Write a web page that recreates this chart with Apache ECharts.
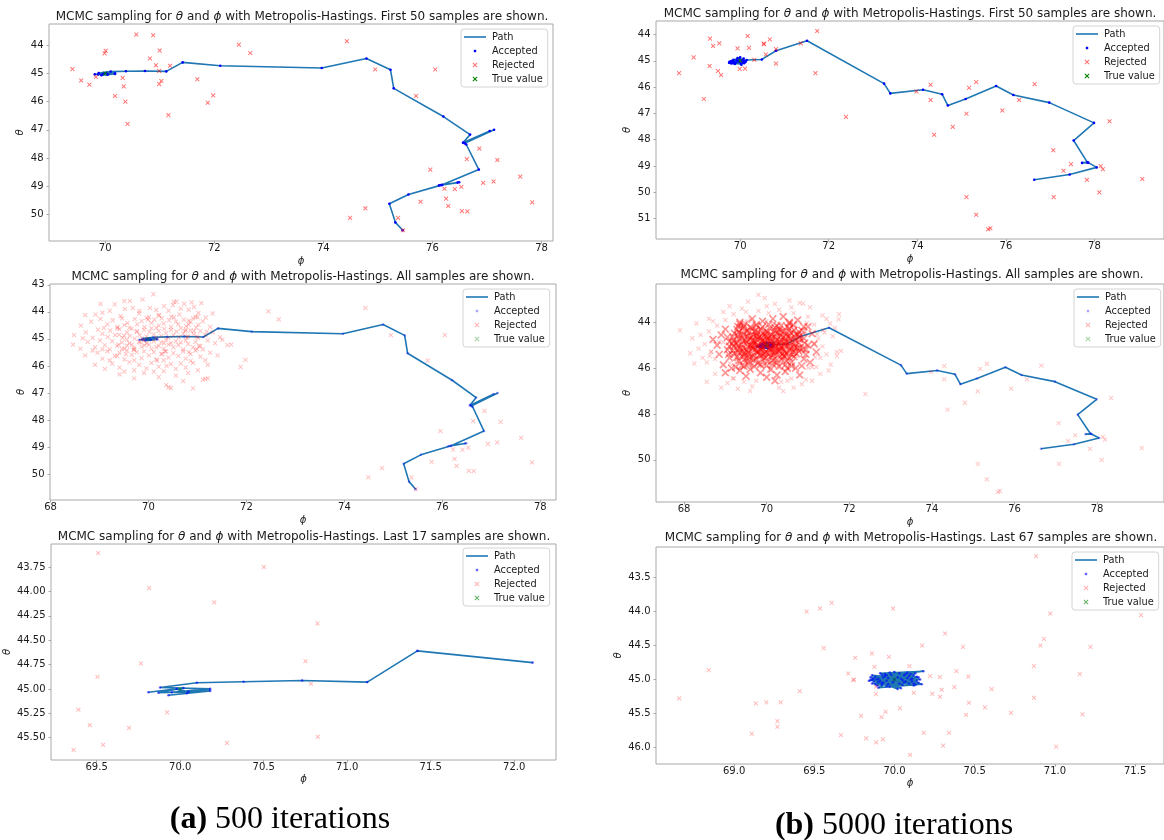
<!DOCTYPE html>
<html>
<head>
<meta charset="utf-8">
<script src="https://cdn.jsdelivr.net/npm/echarts@6/dist/echarts.min.js"></script>
<style>
html, body { margin: 0; padding: 0; background: #fff; }
#chart { width: 1164px; height: 840px; }
</style>
</head>
<body>
<div id="chart"></div>
<script>
// ---------------- data: points are [phi, theta] ----------------
const trueValue = [[70, 45]];

// 500-iteration run: accepted states in chain order
const chain500 = [
  [75.455,50.56],[75.32,50.28],[75.21,49.62],[75.56,49.29],[76.16,48.96],[76.49,48.86],[76.12,48.97],
  [76.46,48.87],[76.18,48.95],[76.85,48.41],[76.62,47.52],[76.57,47.45],[77.13,47.0],[76.59,47.48],
  [77.05,47.04],[76.56,47.46],[76.69,47.17],[76.2,46.53],[75.29,45.53],[75.23,44.87],[74.79,44.47],
  [73.97,44.81],[72.11,44.73],[71.42,44.61],[71.12,44.93],[70.73,44.913],[70.38,44.926],[70.10,44.937],
  [69.88,44.985],[70.18,45.0],[69.95,45.035],[70.18,45.02],[69.93,45.065],[70.04,45.045],[69.98,45.0],
  [70.05,45.03],[69.87,45.04],[70.02,44.99],[69.81,45.035]
];
// 500-iteration run: rejected proposals among the first samples
const rejectedFirst500 = [
  [69.40,44.85],[69.56,45.25],[69.71,45.40],[69.83,45.13],[69.99,44.29],[70.01,44.20],[70.57,43.62],
  [70.88,43.65],[70.82,44.47],[71.00,44.19],[70.93,44.71],[70.99,44.91],[71.19,44.73],[71.03,45.27],
  [70.99,45.38],[70.32,45.16],[70.34,45.46],[70.18,45.80],[70.37,46.00],[70.41,46.79],[71.16,46.48],
  [71.69,45.21],[71.98,45.78],[71.88,46.04],[72.45,43.98],[72.66,44.28],[74.43,43.86],[74.95,44.86],
  [76.05,44.86],[75.70,45.80],[76.86,47.66],[76.63,48.04],[77.19,48.07],[75.96,48.41],[77.61,48.66],
  [77.12,48.83],[76.93,48.88],[76.53,49.02],[76.22,49.09],[76.41,49.10],[76.25,49.44],[75.78,49.55],
  [77.83,49.57],[76.29,49.70],[76.54,49.88],[76.64,49.89],[74.77,49.78],[74.49,50.12],[75.37,50.12],
  [75.46,50.56]
];
// 500-iteration run: rejected proposals among the last samples
const rejectedLast500 = [
  [69.509,43.607],[70.501,43.75],[69.815,43.966],[70.204,44.113],[70.822,44.329],[69.765,44.74],
  [70.75,44.716],[69.505,44.876],[70.783,44.947],[69.391,45.214],[69.922,45.241],[69.459,45.372],
  [69.694,45.40],[70.824,45.49],[69.539,45.572],[70.28,45.555],[69.362,45.627]
];
// 500-iteration run: remaining rejected proposals around the posterior mode
const rejectedCloud500 = [
  [70.1,43.35],[69.62,43.6],[70.52,43.63],[69.31,43.72],[70.73,43.7],[71.08,43.68],[69.88,43.54],[70.32,43.79],[69.02,43.71],[70.93,43.82],
  [68.92,44.1],[69.21,43.96],[69.52,43.9],[69.81,44.06],[70.03,43.86],[70.22,44.14],[70.41,43.96],[70.63,44.1],[70.82,43.92],[71.02,44.04],
  [71.31,44.06],[69.43,44.16],[69.68,43.86],[70.16,43.93],[70.47,44.18],[70.96,44.19],[68.71,44.12],[69.06,44.03],[70.66,43.88],[71.17,44.21],
  [68.62,44.51],[68.83,44.36],[69.02,44.26],[69.16,44.46],[69.27,44.31],[69.37,44.56],[69.46,44.24],[69.57,44.41],[69.61,44.59],[69.72,44.27],
  [69.77,44.46],[69.86,44.34],[69.92,44.56],[69.96,44.22],[70.06,44.41],[70.12,44.29],[70.21,44.51],[70.27,44.24],[70.31,44.43],[70.42,44.31],
  [70.46,44.56],[70.52,44.21],[70.61,44.46],[70.72,44.29],[70.77,44.53],[70.86,44.38],[70.91,44.24],[71.02,44.48],[71.11,44.35],[71.26,44.56],
  [69.09,44.59],[69.51,44.49],[70.16,44.59],[70.56,44.36],[70.97,44.58],
  [68.48,44.86],[68.72,44.76],[68.86,44.96],[68.97,44.66],[69.06,44.81],[69.17,44.93],[69.22,44.69],[69.32,44.86],[69.41,44.64],[69.47,44.96],
  [69.56,44.76],[69.62,44.89],[69.66,44.62],[69.72,44.99],[69.76,44.71],[69.82,44.86],[69.91,44.67],[69.96,44.91],[70.02,44.74],[70.06,44.61],
  [70.11,44.83],[70.16,44.96],[70.21,44.71],[70.26,44.89],[70.32,44.63],[70.36,44.79],[70.41,44.96],[70.46,44.67],[70.51,44.86],[70.57,44.73],
  [70.62,44.94],[70.66,44.61],[70.71,44.81],[70.81,44.91],[70.86,44.69],[70.92,44.83],[71.01,44.96],[71.06,44.71],[71.16,44.86],[71.31,44.76],
  [71.46,44.94],[69.36,44.61],[69.87,44.99],[70.76,44.66],[68.66,44.98],
  [68.46,45.21],[68.76,45.11],[68.91,45.31],[69.01,45.06],[69.11,45.23],[69.21,45.39],[69.26,45.09],[69.36,45.26],[69.46,45.13],[69.51,45.36],
  [69.56,45.03],[69.66,45.21],[69.71,45.33],[69.81,45.11],[69.86,45.29],[69.91,45.06],[70.01,45.21],[70.06,45.37],[70.11,45.09],[70.21,45.26],
  [70.26,45.13],[70.31,45.36],[70.36,45.03],[70.41,45.21],[70.51,45.31],[70.56,45.09],[70.61,45.23],[70.71,45.39],[70.76,45.06],[70.81,45.19],
  [70.91,45.31],[70.96,45.11],[71.06,45.26],[71.21,45.06],[71.36,45.16],[71.51,45.03],[71.61,45.23],[68.61,45.36],[69.06,45.39],[69.61,45.16],
  [70.16,45.31],[70.66,45.13],[71.11,45.39],[69.96,45.16],[70.46,45.16],
  [68.71,45.61],[68.96,45.51],[69.06,45.73],[69.16,45.46],[69.31,45.63],[69.41,45.51],[69.51,45.76],[69.56,45.43],[69.66,45.59],[69.76,45.49],
  [69.86,45.71],[69.91,45.46],[70.01,45.61],[70.11,45.49],[70.16,45.76],[70.26,45.56],[70.36,45.46],[70.41,45.69],[70.51,45.53],[70.61,45.63],
  [70.71,45.46],[70.76,45.73],[70.86,45.56],[70.96,45.43],[71.06,45.66],[71.26,45.51],[71.41,45.61],[69.21,45.79],[69.71,45.79],[70.31,45.79],
  [70.86,45.81],[68.86,45.43],[71.16,45.79],
  [68.91,45.96],[69.11,46.11],[69.26,45.91],[69.41,46.06],[69.61,45.86],[69.71,46.16],[69.81,45.96],[69.96,46.09],[70.06,45.89],[70.21,46.03],
  [70.31,46.19],[70.46,45.93],[70.56,46.11],[70.66,45.91],[70.76,46.06],[70.91,45.89],[71.01,46.16],[71.21,45.96],[69.51,46.21],[70.11,46.21],
  [69.41,46.31],[69.91,46.26],[70.21,46.41],[70.36,46.71],[70.46,46.81],[70.56,46.36],[70.81,46.26],[70.91,46.83],[71.11,46.51],[71.21,46.46],
  [69.71,46.46],[70.71,46.56]
];

// 5000-iteration run: accepted states, burn-in part
const chainHead5000 = [
  [76.64,49.52],[77.44,49.32],[78.05,49.05],[77.86,48.87],[77.72,48.88],[77.84,48.86],[77.53,48.03],
  [77.99,47.36],[76.98,46.59],[76.17,46.30],[75.78,45.96],[75.09,46.45],[74.69,46.70],[74.56,46.27],
  [74.13,46.10],[73.39,46.24],[73.25,45.87],[71.51,44.24],[70.81,44.62],[70.49,44.95],[70.15,44.97]
];
// 5000-iteration run: accepted states right after reaching the mode
const chainEarly5000 = [
  [69.95,45.02],[69.78,45.06],[70.05,44.98],[69.80,45.10],[70.10,45.03],[69.85,44.96],[70.02,45.12],
  [69.76,45.04],[70.08,44.92],[69.90,45.08],[70.12,45.05],[69.82,45.00],[70.00,44.87],[69.88,45.12],
  [70.06,45.07],[69.75,45.08],[69.98,44.95],[70.13,45.01],[69.86,45.05],[70.03,45.15],[69.92,44.98],
  [70.09,45.09],[69.79,45.02],[70.01,45.04],[69.94,44.90],[70.07,45.00],[69.84,45.09],[69.97,45.05],
  [70.00,45.01]
];
// 5000-iteration run: final 67 accepted states
const chainTail5000 = [
  [70.15,44.97],[69.87,45.03],[70.10,44.92],[69.90,44.99],[70.12,45.06],[69.92,44.93],[70.05,45.08],
  [69.85,45.01],[70.08,44.90],[69.95,45.10],[70.14,45.02],[69.88,44.96],[70.03,44.91],[69.93,45.05],
  [70.11,44.99],[69.86,44.94],[70.06,45.04],[69.97,44.90],[70.17,45.07],[69.90,45.12],[70.02,44.97],
  [69.84,45.02],[70.09,44.95],[69.96,45.07],[70.13,44.91],[69.89,45.00],[70.04,45.13],[69.94,44.95],
  [70.18,44.88],[69.91,44.91],[70.07,45.03],[69.86,45.06],[70.10,45.00],[69.98,44.93],[70.15,45.05],
  [69.92,45.08],[70.00,44.89],[69.87,44.99],[70.12,45.09],[69.95,45.02],[70.06,44.94],[69.89,45.09],
  [70.14,44.96],[69.93,44.97],[70.03,45.06],[69.85,44.97],[70.11,45.03],[69.97,45.11],[70.08,44.98],
  [69.90,45.04],[70.16,45.00],[69.94,44.92],[70.05,45.01],[69.88,45.07],[70.12,44.94],[69.99,45.04],
  [70.07,44.92],[69.91,45.02],[70.13,45.08],[69.96,44.98],[70.02,45.14],[69.86,45.00],[70.09,45.06],
  [69.95,44.94],[70.04,44.99],[69.92,45.05],[70.00,45.00]
];
// 5000-iteration run: rejected proposals among the first samples
const rejectedFirst5000 = [
  [68.62,45.47],[68.95,44.87],[69.18,46.45],[69.31,45.20],[69.32,44.16],[69.39,44.44],[69.50,45.39],
  [69.53,44.34],[69.57,45.54],[69.94,44.53],[69.99,45.31],[70.11,45.30],[70.17,44.06],[70.20,44.51],
  [70.32,44.96],[70.53,44.35],[70.54,44.37],[70.58,44.76],[70.67,44.19],[70.81,44.56],[70.81,45.11],
  [71.37,44.34],[71.70,45.47],[71.74,43.87],[72.39,47.13],[73.98,46.17],[74.30,45.91],[74.30,46.49],
  [75.17,46.03],[75.33,45.81],[76.65,45.89],[76.30,46.49],[75.11,47.01],[74.80,47.51],[75.92,46.89],
  [74.38,47.81],[78.34,47.30],[77.07,48.40],[77.47,48.93],[77.30,49.18],[78.14,49.00],[78.19,49.12],
  [77.83,49.52],[79.08,49.49],[78.11,50.00],[77.08,50.18],[75.11,50.18],[75.33,50.85],[75.60,51.40],
  [75.65,51.36]
];
// 5000-iteration run: rejected proposals among the last samples
const rejectedLast5000 = [
  [70.883,43.186],[69.452,44.0],[69.535,43.956],[69.608,43.873],[69.991,43.956],[70.971,44.029],
  [71.537,44.054],[70.315,44.324],[69.558,44.539],[70.172,44.5],[70.427,44.52],[70.931,44.402],
  [70.910,44.5],[71.222,44.52],[69.859,44.618],[69.755,44.681],[69.965,44.667],[69.875,44.814],
  [70.093,44.804],[69.711,44.912],[70.869,44.804],[70.386,44.877],[71.155,44.922],[69.747,45.0],
  [69.743,45.01],[68.842,44.863],[68.658,45.279],[69.409,45.172],[69.135,45.353],[69.201,45.338],
  [69.29,45.338],[69.27,45.613],[69.27,45.696],[69.11,45.799],[69.884,45.108],[69.884,45.216],
  [70.12,45.196],[70.222,44.951],[70.282,44.966],[70.236,45.211],[70.294,45.152],[70.284,45.255],
  [70.373,45.113],[70.46,44.956],[70.605,45.142],[70.464,45.343],[70.869,45.27],[70.033,45.426],
  [69.944,45.475],[69.792,45.534],[69.919,45.554],[70.446,45.52],[70.564,45.412],[70.726,45.49],
  [71.172,45.515],[69.666,45.819],[69.823,45.868],[69.886,45.926],[69.927,45.882],[70.182,45.784],
  [70.34,45.784],[70.303,45.975],[70.097,46.108],[71.008,45.99]
];
// 5000-iteration run: sparse rejected proposals on the rim of the posterior cloud
const rejectedFringe5000 = [
  [67.9,44.35],[68.2,44.7],[68.3,44.05],[68.45,45.55],[68.55,46.6],[68.6,43.85],[68.75,46.25],[68.9,46.85],[69.1,43.3],[69.3,46.9],
  [69.55,43.1],[69.6,47.0],[69.8,42.8],[69.95,42.95],[70.2,43.2],[70.4,47.0],[70.55,43.05],[70.8,43.15],[70.85,46.7],[71.05,43.35],
  [71.1,46.55],[71.3,46.25],[71.45,43.85],[71.6,44.6],[71.7,45.3],[71.75,43.65],[71.8,45.25],[71.55,45.85],[71.35,43.7],[71.2,45.95],
  [68.35,45.15],[68.15,45.35],[68.7,43.95],[69.05,46.65],[70.65,46.85],[68.4,44.55],[68.25,45.8],[71.65,44.25],[71.5,46.1],[68.95,43.55],
  [68.8,44.15],[69.0,43.9],[69.2,43.65],[69.5,43.55],[69.8,43.5],[70.05,43.6],[70.3,43.45],[70.65,43.6],[71.0,43.75],[71.15,44.1],
  [70.0,43.3],[69.4,43.4],[70.6,43.35],[68.6,44.4],[68.65,45.3],[68.75,45.6],[68.5,44.95],[68.55,45.75],[71.25,44.7],[71.3,45.55],
  [71.35,45.05],[71.4,44.45],[71.45,45.4],[71.1,45.95],[69.2,46.45],[69.75,46.55],[70.35,46.6],[70.6,46.45],[70.95,46.5],[69.45,46.6],
  [70.5,46.55],[69.65,46.8],[70.3,46.85]
];
// 5000-iteration run: dense rejected proposals in the core of the posterior cloud
const rejectedCore5000 = [
  [69.35,44.0],[69.65,43.85],[69.9,43.95],[70.15,43.85],[70.4,43.75],[70.55,44.05],[70.75,43.9],[70.9,44.2],[69.45,44.2],[70.25,44.15],
  [69.75,44.1],[68.7,44.75],[68.8,45.0],[68.9,44.55],[68.95,45.85],[69.0,44.3],[69.05,45.2],[69.1,45.55],[69.1,44.85],[68.85,45.4],
  [69.15,46.0],[70.85,44.35],[70.9,44.7],[71.0,45.0],[70.95,45.4],[71.05,45.75],[71.1,44.5],[71.15,44.95],[71.2,45.3],[70.85,45.9],
  [71.0,44.2],[70.88,45.15],[69.0,46.2],[69.35,46.1],[69.5,46.35],[69.6,46.05],[69.85,46.2],[70.0,46.4],[70.1,46.05],[70.25,46.3],
  [70.45,46.15],[70.7,46.0],[70.8,46.3],[69.25,45.95],[70.2,46.55],
  [69.3,44.18],[69.45,44.12],[69.6,44.22],[69.75,44.15],[69.9,44.2],[70.05,44.1],[70.2,44.23],[70.35,44.14],[70.5,44.2],[70.65,44.12],
  [69.28,44.32],[69.41,44.27],[69.52,44.38],[69.63,44.25],[69.74,44.35],[69.86,44.29],[69.97,44.4],[70.08,44.26],[70.19,44.36],[70.31,44.3],
  [70.42,44.39],[70.54,44.27],[70.66,44.34],
  [69.22,44.48],[69.33,44.42],[69.45,44.52],[69.57,44.45],[69.68,44.55],[69.79,44.43],[69.91,44.5],[70.02,44.44],[70.13,44.54],[70.25,44.47],
  [70.36,44.41],[70.48,44.53],[70.59,44.46],[70.71,44.51],[70.78,44.42],
  [69.18,44.63],[69.3,44.58],[69.41,44.68],[69.53,44.6],[69.64,44.66],[69.76,44.57],[69.87,44.69],[69.99,44.61],[70.1,44.56],[70.22,44.67],
  [70.33,44.6],[70.45,44.7],[70.56,44.58],[70.68,44.65],[70.79,44.61],
  [69.2,44.78],[69.32,44.72],[69.43,44.83],[69.55,44.75],[69.66,44.81],[69.78,44.73],[69.89,44.84],[70.01,44.77],[70.12,44.71],[70.24,44.82],
  [70.35,44.76],[70.47,44.85],[70.58,44.72],[70.7,44.8],[70.8,44.75],
  [69.16,44.93],[69.27,44.88],[69.39,44.97],[69.5,44.9],[69.62,44.99],[69.73,44.87],[69.85,44.95],[69.96,44.89],[70.08,44.98],[70.19,44.91],
  [70.31,44.86],[70.42,44.96],[70.54,44.9],[70.65,44.99],[70.77,44.88],
  [69.2,45.07],[69.31,45.02],[69.43,45.12],[69.54,45.05],[69.66,45.14],[69.77,45.03],[69.89,45.1],[70.0,45.06],[70.12,45.15],[70.23,45.04],
  [70.35,45.11],[70.46,45.02],[70.58,45.13],[70.69,45.07],[70.8,45.12],
  [69.18,45.24],[69.29,45.18],[69.41,45.28],[69.52,45.21],[69.64,45.16],[69.75,45.27],[69.87,45.2],[69.98,45.29],[70.1,45.17],[70.21,45.25],
  [70.33,45.19],[70.44,45.3],[70.56,45.22],[70.67,45.17],[70.78,45.27],
  [69.23,45.38],[69.34,45.33],[69.46,45.43],[69.57,45.36],[69.69,45.45],[69.8,45.32],[69.92,45.4],[70.03,45.35],[70.15,45.44],[70.26,45.31],
  [70.38,45.39],[70.49,45.34],[70.61,45.42],[70.72,45.37],
  [69.28,45.52],[69.4,45.47],[69.51,45.57],[69.63,45.5],[69.74,45.59],[69.86,45.46],[69.97,45.55],[70.09,45.49],[70.2,45.58],[70.32,45.51],
  [70.43,45.46],[70.55,45.56],[70.66,45.5],
  [69.33,45.68],[69.45,45.63],[69.56,45.74],[69.68,45.66],[69.79,45.78],[69.91,45.64],[70.02,45.72],[70.14,45.67],[70.25,45.77],[70.37,45.62],
  [70.48,45.7],[70.6,45.75],
  [69.4,45.88],[69.55,45.82],[69.7,45.93],[69.85,45.85],[70.0,45.9],[70.15,45.83],[70.3,45.92],[70.45,45.86],[70.6,45.91],
  [69.6,44.7],[69.7,44.95],[69.8,45.25],[69.9,44.8],[70.0,45.0],[70.1,44.85],[70.2,45.1],[70.3,44.95],[70.4,45.2],[69.65,45.05],
  [69.75,44.6],[69.95,45.35],[70.05,44.65],[70.15,45.3],[70.25,44.75],[70.35,45.05],[69.85,45.15],[70.45,44.85],[69.55,45.3],[69.7,44.82],
  [69.05,44.65],[69.1,45.05],[69.08,45.4],[70.92,44.9],[70.95,45.2],[70.9,45.6],[69.35,44.08],[70.55,44.0],[69.45,45.92],[70.5,46.0],
  [69.37,44.55],[69.48,44.8],[69.6,45.0],[69.72,45.2],[69.83,45.42],[69.95,44.55],[70.07,44.78],[70.18,45.02],[70.3,45.25],[70.41,45.48],
  [70.52,44.62],[70.63,44.88],[70.74,45.12],[69.25,44.95],[69.35,45.15],[69.47,45.32],[69.58,45.55],[69.7,44.4],[69.82,44.62],[69.94,44.86],
  [70.06,45.14],[70.18,45.38],[70.29,44.45],[70.4,44.65],[70.52,45.05],[70.63,45.3],[70.74,44.55]
];

// tick values per panel
const xTicksA1 = [70, 72, 74, 76, 78];
const yTicksA1 = [44, 45, 46, 47, 48, 49, 50];
const xTicksA2 = [68, 70, 72, 74, 76, 78];
const yTicksA2 = [43, 44, 45, 46, 47, 48, 49, 50];
const xTicksA3 = [69.5, 70.0, 70.5, 71.0, 71.5, 72.0];
const yTicksA3 = [43.75, 44.00, 44.25, 44.50, 44.75, 45.00, 45.25, 45.50];
const xTicksB1 = [70, 72, 74, 76, 78];
const yTicksB1 = [44, 45, 46, 47, 48, 49, 50, 51];
const xTicksB2 = [68, 70, 72, 74, 76, 78];
const yTicksB2 = [44, 46, 48, 50];
const xTicksB3 = [69.0, 69.5, 70.0, 70.5, 71.0, 71.5];
const yTicksB3 = [43.5, 44.0, 44.5, 45.0, 45.5, 46.0];

const legendNames = ['Path', 'Accepted', 'Rejected', 'True value'];
const captions = ['500 iterations', '5000 iterations'];

// ---------------- derived series data ----------------
const chain5000 = chainHead5000.concat(chainEarly5000, chainTail5000);
const allRejected500 = rejectedFirst500.concat(rejectedLast500, rejectedCloud500);
const sparseRejected5000 = rejectedFirst5000.concat(rejectedLast5000, rejectedFringe5000);

// ---------------- styling ----------------
const FONT = 'DejaVu Sans';
const TXT = '#1a1a1a';
const PATH_COLOR = '#1f77b4';
const X_SYMBOL = 'path://M-2.5,-1.75L-1.75,-2.5L0,-0.75L1.75,-2.5L2.5,-1.75L0.75,0L2.5,1.75L1.75,2.5L0,0.75L-1.75,2.5L-2.5,1.75L-0.75,0Z';
const ICON_LINE = 'path://M0,0M22,10M0,4.2L22,4.2L22,5.8L0,5.8Z';
const ICON_DOT = 'path://M0,0M22,10M9.8,3.8L12.2,3.8L12.2,6.2L9.8,6.2Z';
const ICON_X = 'path://M0,0M22,10M8.5,3.25L9.25,2.5L11,4.25L12.75,2.5L13.5,3.25L11.75,5L13.5,6.75L12.75,7.5L11,5.75L9.25,7.5L8.5,6.75L10.25,5Z';

const looks = {
  first: { acc: 1.0, rej: 0.55, rejSize: 4.6 },
  all:   { acc: 0.35, rej: 0.24, rejSize: 4.8 },
  dense: { acc: 0.35, rej: 0.22, rejSize: 4.8, core: 0.42, coreSize: 8 },
  last:  { acc: 0.6, rej: 0.28, rejSize: 4.6 }
};

function titleText(suffix) {
  return 'MCMC sampling for {m|θ} and {m|ϕ} with Metropolis-Hastings. ' + suffix;
}

const panels = [
  { grid: { left: 49, top: 24, width: 504, height: 217 }, xr: [68.97, 78.21], yr: [43.25, 50.94],
    xt: xTicksA1, yt: yTicksA1, xd: 0, yd: 0, title: titleText('First 50 samples are shown.'), tx: 302, ty: 17,
    xGap: 14, yGap: 17, path: chain500.slice(0, 50), rejected: [rejectedFirst500], look: looks.first, lg: [461, 29] },
  { grid: { left: 50, top: 284, width: 506, height: 216 }, xr: [67.99, 78.32], yr: [42.97, 50.96],
    xt: xTicksA2, yt: yTicksA2, xd: 0, yd: 0, title: titleText('All samples are shown.'), tx: 303, ty: 276.5,
    xGap: 14, yGap: 18, path: chain500, rejected: [allRejected500], look: looks.all, lg: [463, 289] },
  { grid: { left: 50, top: 544, width: 506, height: 216 }, xr: [69.227, 72.25], yr: [43.514, 45.729],
    xt: xTicksA3, yt: yTicksA3, xd: 1, yd: 2, title: titleText('Last 17 samples are shown.'), tx: 304, ty: 536.5,
    xGap: 13, yGap: 32, path: chain500.slice(-17), rejected: [rejectedLast500], look: looks.last, lg: [463, 548] },
  { grid: { left: 656, top: 21, width: 508, height: 218 }, xr: [68.10, 79.57], yr: [43.49, 51.77],
    xt: xTicksB1, yt: yTicksB1, xd: 0, yd: 0, title: titleText('First 50 samples are shown.'), tx: 910, ty: 13.5,
    xGap: 14, yGap: 18, path: chain5000.slice(0, 50), rejected: [rejectedFirst5000], look: looks.first, lg: [1073, 26] },
  { grid: { left: 656, top: 284, width: 509, height: 218 }, xr: [67.32, 79.62], yr: [42.33, 51.84],
    xt: xTicksB2, yt: yTicksB2, xd: 0, yd: 0, title: titleText('All samples are shown.'), tx: 912, ty: 275,
    xGap: 14, yGap: 18, path: chain5000, rejected: [sparseRejected5000, rejectedCore5000], look: looks.dense, lg: [1074, 289] },
  { grid: { left: 656, top: 547, width: 509, height: 217 }, xr: [68.513, 71.68], yr: [43.05, 46.245],
    xt: xTicksB3, yt: yTicksB3, xd: 1, yd: 1, title: titleText('Last 67 samples are shown.'), tx: 911, ty: 537.5,
    xGap: 13, yGap: 28, path: chainTail5000, rejected: [rejectedLast5000], look: looks.last, lg: [1072, 552] }
];

// ---------------- option ----------------
const option = {
  animation: false,
  backgroundColor: '#ffffff',
  grid: [], xAxis: [], yAxis: [], series: [], title: [], legend: []
};

panels.forEach((p, i) => {
  option.grid.push(Object.assign({ show: true, borderColor: '#a8a8a8', borderWidth: 1,
    backgroundColor: 'transparent', containLabel: false }, p.grid));

  const tickStyle = { show: true, length: 2.5, lineStyle: { color: '#a8a8a8', width: 1 } };
  option.xAxis.push({
    type: 'value', gridIndex: i, min: p.xr[0], max: p.xr[1],
    axisLine: { show: false }, splitLine: { show: false },
    axisTick: Object.assign({ customValues: p.xt }, tickStyle),
    axisLabel: { customValues: p.xt, margin: 2.5, fontFamily: FONT, fontSize: 10, color: TXT,
      formatter: v => Number(v).toFixed(p.xd) },
    name: 'ϕ', nameLocation: 'middle', nameGap: p.xGap,
    nameTextStyle: { fontFamily: FONT, fontStyle: 'italic', fontSize: 10, lineHeight: 12, color: TXT }
  });
  option.yAxis.push({
    type: 'value', gridIndex: i, min: p.yr[0], max: p.yr[1], inverse: true,
    axisLine: { show: false }, splitLine: { show: false },
    axisTick: Object.assign({ customValues: p.yt }, tickStyle),
    axisLabel: { customValues: p.yt, margin: 5.5, fontFamily: FONT, fontSize: 10, color: TXT,
      formatter: v => Number(v).toFixed(p.yd) },
    name: 'θ', nameLocation: 'middle', nameGap: p.yGap,
    nameTextStyle: { fontFamily: FONT, fontStyle: 'italic', fontSize: 10, lineHeight: 12, color: TXT }
  });

  option.title.push({
    text: p.title, left: p.tx, top: p.ty - 7.5, textAlign: 'center', padding: 0,
    textStyle: { fontFamily: FONT, fontSize: 12, fontWeight: 'normal', color: TXT, lineHeight: 15,
      rich: { m: { fontFamily: FONT, fontStyle: 'italic', fontSize: 12, color: TXT, lineHeight: 15 } } }
  });

  const L = p.look;
  option.series.push({
    name: 'Path', type: 'line', xAxisIndex: i, yAxisIndex: i, data: p.path,
    showSymbol: false, symbol: 'none', lineStyle: { color: PATH_COLOR, width: 1.6 }, z: 2
  });
  option.series.push({
    name: 'Accepted', type: 'scatter', xAxisIndex: i, yAxisIndex: i, data: p.path,
    symbol: 'circle', symbolSize: 2.6, itemStyle: { color: '#0000ff', opacity: L.acc }, z: 3
  });
  p.rejected.forEach((pts, k) => {
    option.series.push({
      name: 'Rejected', type: 'scatter', xAxisIndex: i, yAxisIndex: i, data: pts,
      symbol: X_SYMBOL, symbolSize: k === 0 ? L.rejSize : L.coreSize,
      itemStyle: { color: '#ff0000', opacity: k === 0 ? L.rej : L.core }, z: 4
    });
  });
  option.series.push({
    name: 'True value', type: 'scatter', xAxisIndex: i, yAxisIndex: i, data: trueValue,
    symbol: X_SYMBOL, symbolSize: 4.2, itemStyle: { color: '#008000', opacity: L.acc }, z: 5
  });

  option.legend.push({
    orient: 'vertical', left: p.lg[0], top: p.lg[1], padding: [3, 5, 3, 3],
    itemWidth: 22, itemHeight: 10, itemGap: 4, selectedMode: false,
    backgroundColor: 'rgba(255,255,255,0.85)', borderColor: '#d4d4d4', borderWidth: 1, borderRadius: 3,
    textStyle: { fontFamily: FONT, fontSize: 9.8, color: TXT, padding: [0, 0, 0, 1] },
    data: [
      { name: legendNames[0], icon: ICON_LINE, itemStyle: { color: PATH_COLOR, borderWidth: 0 } },
      { name: legendNames[1], icon: ICON_DOT, itemStyle: { color: '#0000ff', opacity: L.acc, borderWidth: 0 } },
      { name: legendNames[2], icon: ICON_X, itemStyle: { color: '#ff0000', opacity: Math.max(L.rej, 0.3), borderWidth: 0 } },
      { name: legendNames[3], icon: ICON_X, itemStyle: { color: '#008000', opacity: L.acc, borderWidth: 0 } }
    ]
  });
});

// sub-figure captions
const capStyle = { fontFamily: 'Liberation Serif', fontSize: 32, fontWeight: 'normal', color: '#000', lineHeight: 34,
  rich: { b: { fontFamily: 'Liberation Serif', fontSize: 32, fontWeight: 'bold', color: '#000', lineHeight: 34 } } };
option.title.push({ text: '{b|(a)} ' + captions[0], left: 280, top: 803, textAlign: 'center', padding: 0, textStyle: capStyle });
option.title.push({ text: '{b|(b)} ' + captions[1], left: 894, top: 809, textAlign: 'center', padding: 0, textStyle: capStyle });

const chart = echarts.init(document.getElementById('chart'), null, { renderer: 'canvas' });
chart.setOption(option);
</script>
</body>
</html>
